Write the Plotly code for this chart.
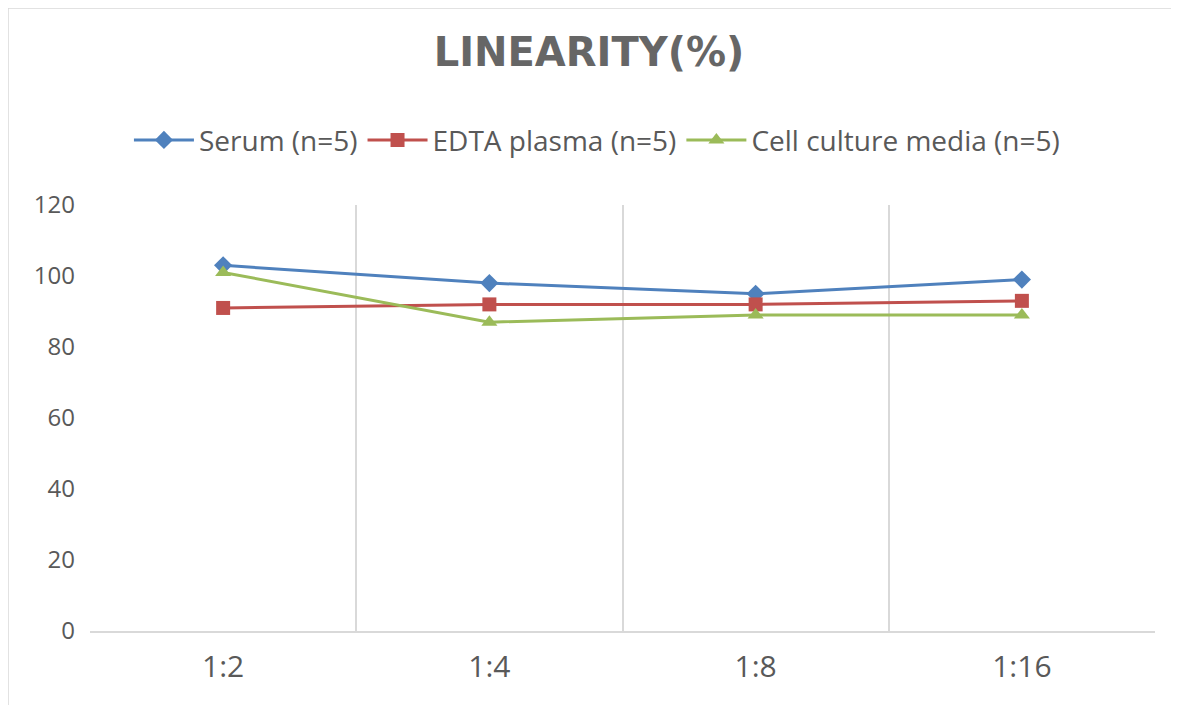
import plotly.graph_objects as go

# dilution ratios and linearity values (%)
dilutions = ["1:2", "1:4", "1:8", "1:16"]
serum = [103, 98, 95, 99]
edta_plasma = [91, 92, 92, 93]
cell_culture = [101, 87, 89, 89]

series_names = ["Serum (n=5)", "EDTA plasma (n=5)", "Cell culture media (n=5)"]
series_values = [serum, edta_plasma, cell_culture]
colors = ["#4F81BD", "#C0504D", "#9BBB59"]
symbols = ["diamond", "square", "triangle-up"]

xpos = list(range(len(dilutions)))
boundaries = [i - 0.5 for i in range(len(dilutions) + 1)]

fig = go.Figure()
for name, vals, col, sym in zip(series_names, series_values, colors, symbols):
    fig.add_trace(go.Scatter(
        x=xpos, y=vals, name=name,
        mode="lines+markers",
        line=dict(color=col, width=3),
        marker=dict(symbol=sym, size=14, color=col),
    ))

# the page puts the figure 8px in from the top-left, margins allow for that
fig.update_layout(
    width=1179, height=705,
    paper_bgcolor="white", plot_bgcolor="white",
    margin=dict(l=82, r=32, t=197, b=82),
    font=dict(family="Open Sans, Noto Sans, sans-serif", color="#595959"),
    title=dict(text="<b>LINEARITY(%)</b>", x=0.4928, xanchor="center",
               y=0.937, yanchor="middle",
               font=dict(family="DejaVu Sans", size=40, color="#666666")),
    legend=dict(orientation="h", x=0.476, xanchor="center",
                y=1.152, yanchor="middle",
                font=dict(size=28, color="#595959"), itemwidth=60,
                traceorder="normal"),
    showlegend=True,
    shapes=[dict(type="rect", xref="paper", yref="paper",
                 x0=-82 / 1065, x1=1 + 32 / 1065, y0=-82 / 426, y1=1 + 197 / 426,
                 line=dict(color="#D9D9D9", width=1.5), layer="below")],
)
fig.update_xaxes(
    range=[-0.5, len(dilutions) - 0.5],
    tickvals=xpos, ticktext=dilutions,
    showgrid=False, ticks="", zeroline=False,
    showline=True, linecolor="#D9D9D9", linewidth=1.5,
    tickfont=dict(size=30, color="#595959"), ticklabelstandoff=8,
    minor=dict(tickvals=boundaries, showgrid=True, gridcolor="#D9D9D9", gridwidth=1.5, ticks=""),
)
fig.update_yaxes(
    range=[0, 120], dtick=20,
    showgrid=False, zeroline=False, showline=False, ticks="",
    tickfont=dict(size=24, color="#595959"), ticklabelstandoff=14,
)

fig.write_html("out.html")
